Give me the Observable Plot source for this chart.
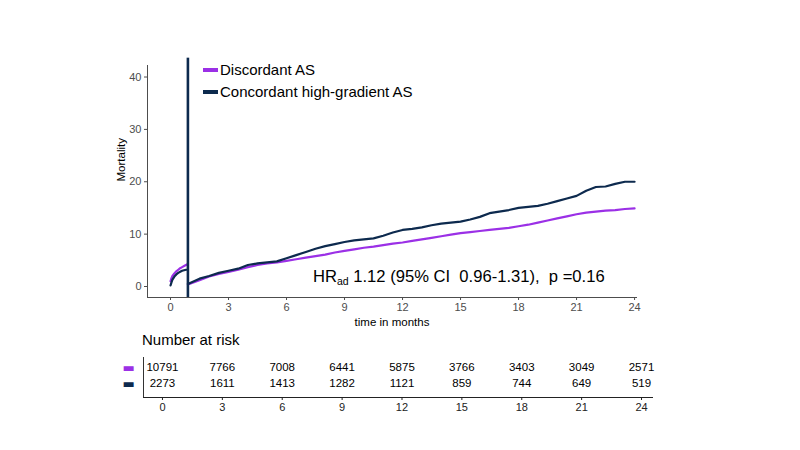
<!DOCTYPE html>
<html>
<head>
<meta charset="utf-8">
<script src="https://cdn.jsdelivr.net/npm/d3@7"></script>
<script src="https://cdn.jsdelivr.net/npm/@observablehq/plot@0.6"></script>
<style>
  html, body { margin: 0; padding: 0; background: #fff; }
  body { width: 800px; height: 450px; position: relative; overflow: hidden; font-family: "Liberation Sans", Arial, sans-serif; }
  #main, #risk { position: absolute; left: 0; }
  #main { top: 0; }
  #risk { top: 335px; }
  .legend { position: absolute; left: 203px; top: 59px; font-size: 15px; color: #000; line-height: 22px; }
  .legend .item { display: flex; align-items: center; }
  .legend .sw { width: 15px; height: 4px; margin-right: 2px; }
  .hr { position: absolute; left: 313px; top: 267px; font-size: 16.6px; color: #000; white-space: pre; }
  .hr sub { font-size: 10.5px; vertical-align: -3px; }
  .nar { position: absolute; left: 142px; top: 331px; font-size: 15px; color: #000; }
</style>
</head>
<body>
<div id="main"></div>
<div id="risk"></div>
<div class="nar">Number at risk</div>
<div class="legend" id="legend"></div>
<div class="hr">HR<sub>ad</sub> 1.12 (95% CI  0.96-1.31),  p =0.16</div>
<script>
// ---- Data ----
const groups = ["Discordant AS", "Concordant high-gradient AS"];
const colors = ["#9b30e6", "#0d2a4e"];
const landmark = 0.9; // months, landmark vertical line

// Segment 1 (0 to landmark)
const seg1Months = [0, 0.05, 0.1, 0.2, 0.3, 0.4, 0.5, 0.6, 0.7, 0.8, 0.9];
const seg1Discordant = [1.0, 1.6, 2.0, 2.5, 2.9, 3.2, 3.5, 3.7, 3.9, 4.1, 4.3];
const seg1Concordant = [0.2, 0.8, 1.3, 1.9, 2.3, 2.6, 2.8, 3.0, 3.1, 3.2, 3.2];

// Segment 2 (landmark to 24 months)
const seg2Months = [0.9, 1.5, 2, 2.5, 3, 3.5, 4, 4.5, 5, 5.5, 6, 6.5, 7, 7.5, 8, 8.5, 9, 9.5, 10, 10.5, 11, 11.5, 12, 12.5, 13, 13.5, 14, 14.5, 15, 15.5, 16, 16.5, 17, 17.5, 18, 18.5, 19, 19.5, 20, 20.5, 21, 21.5, 22, 22.5, 23, 23.5, 24];
const seg2Discordant = [0.4, 1.2, 1.9, 2.4, 2.8, 3.2, 3.7, 4.1, 4.4, 4.6, 4.9, 5.2, 5.5, 5.8, 6.1, 6.5, 6.8, 7.1, 7.4, 7.6, 7.9, 8.2, 8.4, 8.7, 9.0, 9.3, 9.6, 9.9, 10.2, 10.4, 10.6, 10.8, 11.0, 11.2, 11.5, 11.8, 12.2, 12.6, 13.0, 13.4, 13.8, 14.1, 14.3, 14.5, 14.6, 14.8, 14.9];
const seg2Concordant = [0.5, 1.5, 2.0, 2.6, 3.0, 3.4, 4.1, 4.4, 4.6, 4.8, 5.4, 6.0, 6.6, 7.2, 7.7, 8.1, 8.5, 8.8, 9.0, 9.2, 9.7, 10.3, 10.8, 11.0, 11.3, 11.7, 12.0, 12.2, 12.4, 12.8, 13.3, 14.0, 14.3, 14.6, 15.0, 15.2, 15.4, 15.8, 16.3, 16.8, 17.3, 18.3, 19.0, 19.1, 19.6, 20.0, 20.0];

// Number at risk
const riskMonths = [0, 3, 6, 9, 12, 15, 18, 21, 24];
const riskDiscordant = [10791, 7766, 7008, 6441, 5875, 3766, 3403, 3049, 2571];
const riskConcordant = [2273, 1611, 1413, 1282, 1121, 859, 744, 649, 519];

const xTicks = [0, 3, 6, 9, 12, 15, 18, 21, 24];
const yTicks = [0, 10, 20, 30, 40];

// ---- Build tables ----
const curves = [];
seg1Months.forEach((m, i) => {
  curves.push({month: m, value: seg1Discordant[i], group: groups[0], key: "d1"});
  curves.push({month: m, value: seg1Concordant[i], group: groups[1], key: "c1"});
});
seg2Months.forEach((m, i) => {
  curves.push({month: m, value: seg2Discordant[i], group: groups[0], key: "d2"});
  curves.push({month: m, value: seg2Concordant[i], group: groups[1], key: "c2"});
});
const risk = [];
riskMonths.forEach((m, i) => {
  risk.push({month: m, n: riskDiscordant[i], group: groups[0]});
  risk.push({month: m, n: riskConcordant[i], group: groups[1]});
});

const xDom = [-1.19, 24.1];
const yDom = [-2.1, 42.2];
const font = "Liberation Sans, Arial, sans-serif";

const main = Plot.plot({
  width: 800, height: 335,
  marginLeft: 147, marginRight: 164, marginTop: 65, marginBottom: 38,
  style: {fontFamily: font, fontSize: "11px", color: "#4d4d4d", background: "transparent"},
  x: {domain: xDom, ticks: xTicks, tickSize: 3, tickPadding: 3, label: null, line: true},
  y: {domain: yDom, ticks: yTicks, tickSize: 3, tickPadding: 3, label: null, line: true},
  color: {domain: groups, range: colors},
  marks: [
    Plot.line(curves.filter(d => d.group === groups[0]), {x: "month", y: "value", z: "key", stroke: "group", strokeWidth: 2.2}),
    Plot.line(curves.filter(d => d.group === groups[1]), {x: "month", y: "value", z: "key", stroke: "group", strokeWidth: 2.2}),
    Plot.ruleX([landmark], {y1: yDom[0], y2: 43.6, stroke: colors[1], strokeWidth: 2.6, clip: false}),
    Plot.text(["time in months"], {frameAnchor: "bottom", dy: 28, fill: "#000", fontSize: 11.5}),
    Plot.text(["Mortality"], {frameAnchor: "left", dx: -26, rotate: -90, fill: "#000", fontSize: 11.5})
  ]
});
document.getElementById("main").appendChild(main);

const riskPlot = Plot.plot({
  width: 800, height: 115,
  marginLeft: 143, marginRight: 148, marginTop: 22, marginBottom: 53,
  style: {fontFamily: font, fontSize: "11px", color: "#222", background: "transparent"},
  x: {domain: [-0.95, 24.55], ticks: xTicks, tickSize: 3, tickPadding: 3, label: null, line: true},
  y: {type: "point", domain: groups, range: [24, 56], padding: 0.5, axis: null},
  marks: [
    Plot.ruleX([-0.95], {stroke: "#333"}),
    Plot.text(risk, {x: "month", y: "group", text: d => String(d.n), fill: "#000", fontSize: 11.5}),
    Plot.text(groups, {y: d => d, frameAnchor: "left", dx: -21, text: () => "▬", fill: d => colors[groups.indexOf(d)], fontSize: 13, fontFamily: "DejaVu Sans"})
  ]
});
document.getElementById("risk").appendChild(riskPlot);

// legend
const leg = d3.select("#legend");
groups.forEach((g, i) => {
  const it = leg.append("div").attr("class", "item");
  it.append("div").attr("class", "sw").style("background", colors[i]);
  it.append("span").text(g);
});
</script>
</body>
</html>
